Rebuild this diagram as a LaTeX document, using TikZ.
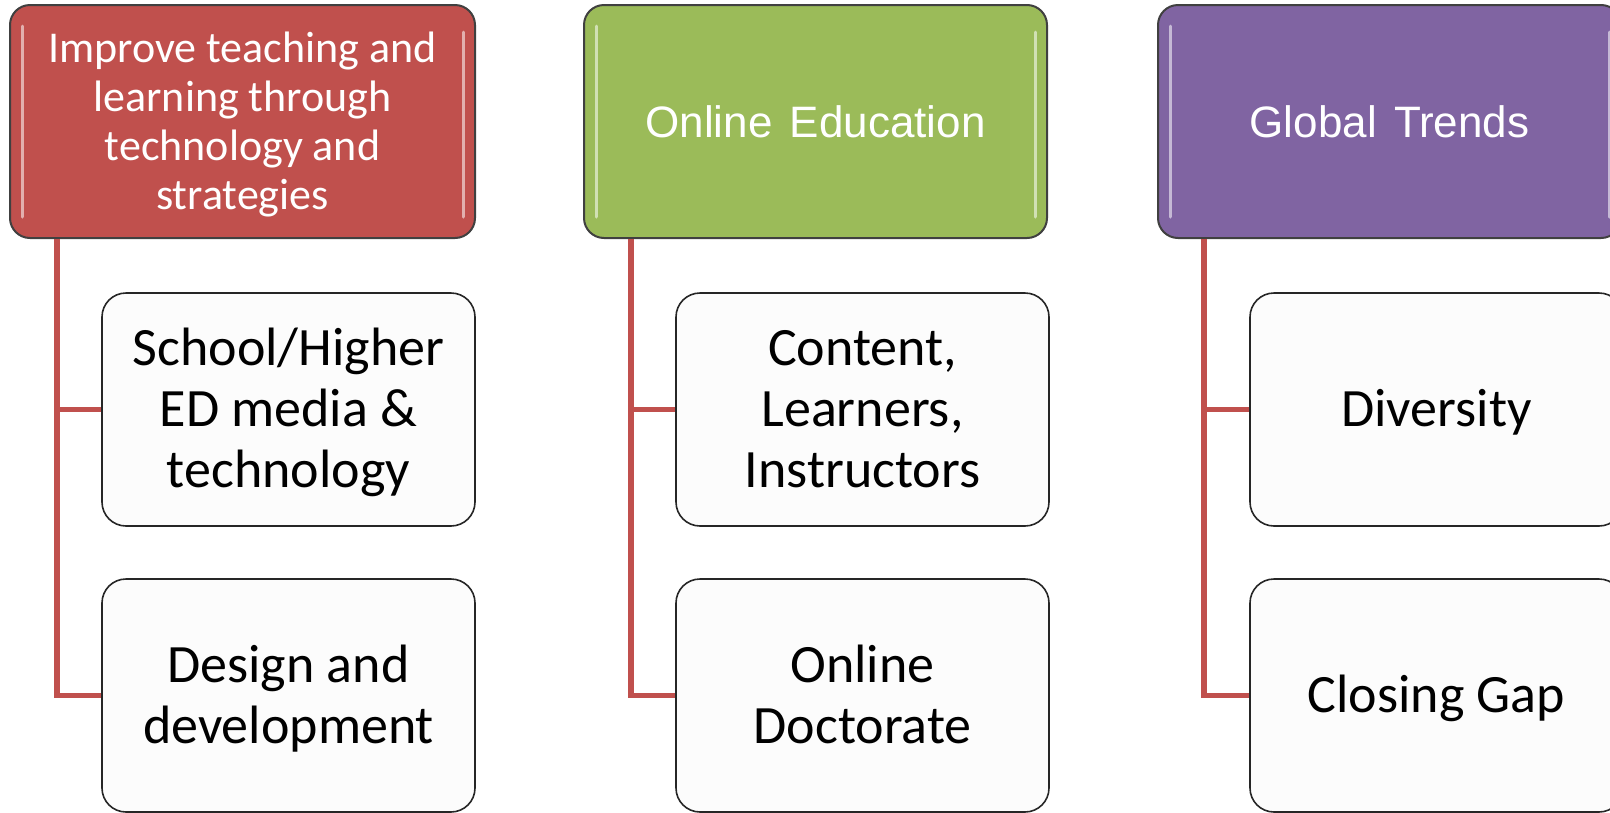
\documentclass[tikz,border=0pt]{standalone}
\usepackage{fontspec}
\setmainfont{Carlito}
\newfontfamily\arialf{Liberation Sans}
\definecolor{hred}{HTML}{C0504D}
\definecolor{hgreen}{HTML}{9BBB59}
\definecolor{hpurple}{HTML}{8064A2}
\definecolor{conncol}{HTML}{C0504D}
\newcommand\ctop{\rule{0pt}{48pt}}
\newcommand\cbot{\rule[-13.2pt]{0pt}{0pt}}
\newcommand\htop{\rule{0pt}{40pt}}
\newcommand\hbot{\rule[-11.7pt]{0pt}{0pt}}
\begin{document}
\begin{tikzpicture}[x=1pt,y=-1pt,
  topbox/.style={draw=black!75, line width=2pt, rounded corners=20pt,
    minimum width=463pt, minimum height=233pt, inner sep=0pt,
    text=white, align=center},
  childbox/.style={draw=black!85, line width=1.6pt, rounded corners=24pt, fill=black!1,
    minimum width=373pt, minimum height=233pt, inner sep=0pt,
    text=black, align=center, font=\fontsize{54}{61}\selectfont},
  conn/.style={draw=conncol, line width=5.5pt},
  gloss/.style={draw=white, opacity=0.55, line width=3pt, line cap=round}
]
\useasboundingbox (0,0) rectangle (1610,812);

% top boxes
\node[topbox, fill=hred, minimum width=465pt, font=\fontsize{44}{49}\selectfont] (t1) at (242.5,121.5)
  {\htop Improve teaching and\\learning through\\technology and\\strategies\hbot};
\node[topbox, fill=hgreen, font=\arialf\fontsize{44}{49}\selectfont] (t2) at (815.5,121.5)
  {Online\hspace{5pt} Education};
\node[topbox, fill=hpurple, font=\arialf\fontsize{44}{49}\selectfont] (t3) at (1389.5,121.5)
  {Global\hspace{5pt} Trends};

% gloss highlights
\foreach \n in {t1,t2,t3}{
  \draw[gloss] ([xshift=13pt,yshift=-22pt]\n.north west) -- ([xshift=13pt,yshift=22pt]\n.south west);
  \draw[gloss] ([xshift=-13pt,yshift=-28pt]\n.north east) -- ([xshift=-13pt,yshift=22pt]\n.south east);
}

% child boxes
\node[childbox] (c11) at (288.5,409.5) {\ctop School/Higher\\ED media \&\\technology\cbot};
\node[childbox] (c12) at (288.5,695.5) {\ctop Design and\\development\cbot};
\node[childbox] (c21) at (862.5,409.5) {\ctop Content,\\Learners,\\Instructors\cbot};
\node[childbox] (c22) at (862.5,695.5) {\ctop Online\\Doctorate\cbot};
\node[childbox] (c31) at (1436.5,409.5) {\ctop Diversity\cbot};
\node[childbox] (c32) at (1436.5,695.5) {\ctop Closing Gap\cbot};

% connectors
\draw[conn] ([xshift=48pt]t1.south west) |- (c11.west);
\draw[conn] ([xshift=48pt]t1.south west) |- (c12.west);
\draw[conn] ([xshift=48pt]t2.south west) |- (c21.west);
\draw[conn] ([xshift=48pt]t2.south west) |- (c22.west);
\draw[conn] ([xshift=47pt]t3.south west) |- (c31.west);
\draw[conn] ([xshift=47pt]t3.south west) |- (c32.west);
\end{tikzpicture}
\end{document}
